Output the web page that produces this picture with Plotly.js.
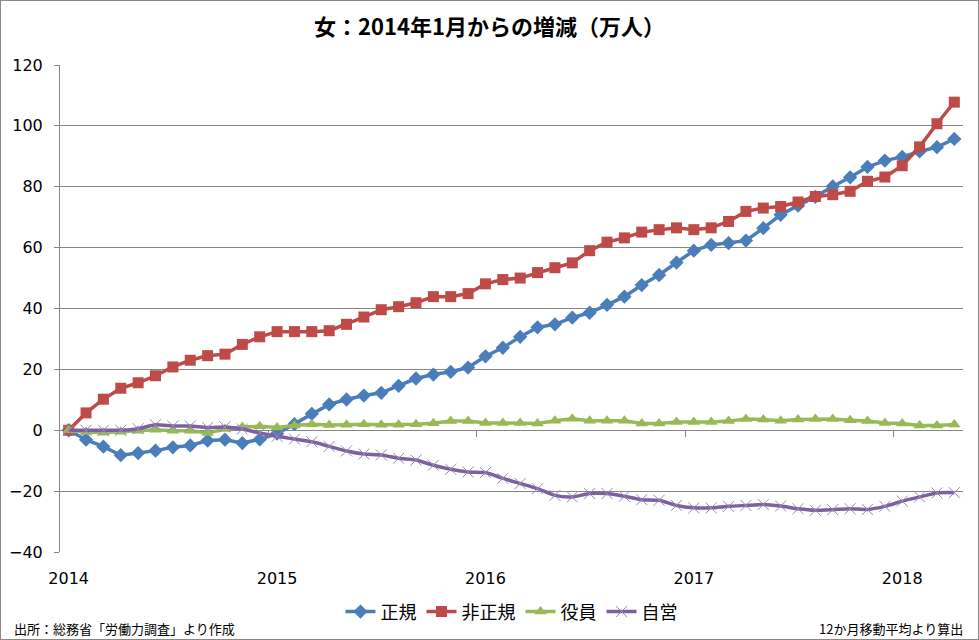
<!DOCTYPE html>
<html>
<head>
<meta charset="utf-8">
<script src="https://cdn.plot.ly/plotly-3.0.1.min.js"></script>
<style>
  html, body { margin: 0; padding: 0; background: #fff; }
  #chart { width: 979px; height: 640px; box-sizing: border-box; border: 1px solid #888; }
</style>
</head>
<body>
<div id="chart"></div>
<script>
// months Jan 2014 .. Apr 2018
var months = [
  '2014/1','2014/2','2014/3','2014/4','2014/5','2014/6','2014/7','2014/8','2014/9','2014/10','2014/11','2014/12',
  '2015/1','2015/2','2015/3','2015/4','2015/5','2015/6','2015/7','2015/8','2015/9','2015/10','2015/11','2015/12',
  '2016/1','2016/2','2016/3','2016/4','2016/5','2016/6','2016/7','2016/8','2016/9','2016/10','2016/11','2016/12',
  '2017/1','2017/2','2017/3','2017/4','2017/5','2017/6','2017/7','2017/8','2017/9','2017/10','2017/11','2017/12',
  '2018/1','2018/2','2018/3','2018/4'
];
var yearTickVals = ['2014/1','2015/1','2016/1','2017/1','2018/1'];
var yearTickText = ['2014','2015','2016','2017','2018'];

// 正規
var seiki = [0,-3.1,-5.4,-8.2,-7.5,-6.7,-5.6,-5.0,-3.4,-3.1,-4.2,-3.0,
  -1.1,2.0,5.4,8.5,10.1,11.4,12.3,14.6,17.0,18.3,19.2,20.6,
  24.3,27.1,30.7,33.8,34.8,37.0,38.6,41.2,43.9,47.7,51.0,55.1,
  59.0,60.9,61.5,62.3,66.4,70.8,73.8,76.7,80.1,83.1,86.5,88.6,
  89.8,91.6,93.0,95.7];
// 非正規
var hiseiki = [0,5.7,10.2,13.8,15.6,17.9,20.8,23.0,24.5,25.0,28.2,30.7,
  32.4,32.4,32.4,32.7,34.8,37.2,39.6,40.6,41.9,43.9,43.9,44.9,
  48.1,49.5,50.0,51.8,53.4,55.0,59.0,61.8,63.2,65.1,65.9,66.5,
  65.9,66.5,68.6,71.9,73.0,73.5,75.0,76.8,77.4,78.5,81.8,83.2,
  86.9,93.1,100.7,107.8];
// 役員
var yakuin = [0,-0.6,-0.8,-0.5,-0.2,0.2,-0.2,-0.2,-0.9,0.4,1.1,1.3,
  0.9,1.6,2.0,1.7,1.8,2.0,1.8,1.8,2.0,2.3,3.0,3.0,
  2.4,2.4,2.4,2.2,3.1,3.8,3.1,3.1,3.1,2.2,2.2,2.7,
  2.7,2.7,3.0,3.7,3.5,3.1,3.5,3.7,3.7,3.3,3.0,2.4,
  2.2,1.6,1.6,1.9];
// 自営
var jiei = [0,0,0,0,0.5,1.8,1.4,1.4,0.9,1.1,0.4,-0.9,
  -2.0,-2.9,-3.8,-5.3,-6.8,-7.8,-8.1,-9.2,-9.8,-11.5,-12.8,-13.7,
  -13.9,-15.8,-17.5,-19.2,-21.4,-21.9,-20.8,-20.8,-21.7,-22.8,-23.0,-24.7,
  -25.5,-25.5,-25.0,-24.7,-24.4,-24.9,-25.8,-26.3,-26.1,-25.8,-26.0,-25.0,
  -23.3,-21.9,-20.6,-20.5];

var boundaryTicks = [11.5, 23.5, 35.5, 47.5];

var grid = '#868686';
var jp = '"Noto Sans CJK JP", sans-serif';
var num = '"DejaVu Sans", sans-serif';

var traces = [
  {
    x: months, y: seiki, name: '正規', type: 'scatter', mode: 'lines+markers',
    line: {color: '#4A7EBB', width: 3.5},
    marker: {symbol: 'diamond', size: 11, color: '#4A7EBB'}
  },
  {
    x: months, y: hiseiki, name: '非正規', type: 'scatter', mode: 'lines+markers',
    line: {color: '#BE4B48', width: 3.5},
    marker: {symbol: 'square', size: 11, color: '#BE4B48'}
  },
  {
    x: months, y: yakuin, name: '役員', type: 'scatter', mode: 'lines+markers',
    line: {color: '#98B954', width: 3.5},
    marker: {symbol: 'triangle-up', size: 11, color: '#98B954'}
  },
  {
    x: months, y: jiei, name: '自営', type: 'scatter', mode: 'lines+markers',
    line: {color: '#7D60A0', width: 3.5, shape: 'spline', smoothing: 0.6},
    marker: {symbol: 'x-thin-open', size: 11, color: '#9A85C0', line: {color: '#9A85C0', width: 1}}
  },
  // carries the year boundary tick marks on the zero line
  {x: [], y: [], xaxis: 'x2', showlegend: false, hoverinfo: 'skip', type: 'scatter'}
];

var layout = {
  width: 977, height: 638,
  margin: {l: 59, r: 15, t: 64, b: 87, autoexpand: false},
  paper_bgcolor: '#fff', plot_bgcolor: '#fff',
  title: {
    text: '<b>女：2014年1月からの増減（万人）</b>',
    font: {family: jp, size: 22, color: '#000'},
    x: 0.5, xref: 'container', xanchor: 'center',
    y: 0.958, yref: 'container', yanchor: 'middle'
  },
  xaxis: {
    type: 'category', range: [-0.5, 51.5],
    tickvals: yearTickVals, ticktext: yearTickText,
    ticks: '', showline: false, showgrid: false, zeroline: false,
    ticklabelstandoff: 15,
    tickfont: {family: num, size: 16, color: '#000'}
  },
  xaxis2: {
    overlaying: 'x', anchor: 'free', position: 0.25,
    type: 'linear', range: [-0.5, 51.5],
    tickvals: boundaryTicks, ticks: 'outside', ticklen: 6, tickwidth: 1, tickcolor: grid,
    showticklabels: false, showgrid: false, zeroline: false, showline: false
  },
  yaxis: {
    range: [-40, 120], dtick: 20, tick0: 0,
    showgrid: true, gridcolor: grid, gridwidth: 1,
    zeroline: true, zerolinecolor: grid, zerolinewidth: 1,
    showline: true, linecolor: grid, linewidth: 1,
    ticks: 'outside', ticklen: 5, tickcolor: grid,
    tickfont: {family: num, size: 16, color: '#000'},
    ticklabelstandoff: 8
  },
  showlegend: true,
  legend: {
    orientation: 'h', x: 0.5, xanchor: 'center',
    y: -0.123, yanchor: 'middle',
    font: {family: jp, size: 18, color: '#000'},
    itemwidth: 30, tracegroupgap: 0
  },
  annotations: [
    {
      text: '出所：総務省「労働力調査」より作成',
      xref: 'paper', yref: 'paper', x: -0.053, y: -0.158,
      xanchor: 'left', yanchor: 'middle', showarrow: false,
      font: {family: jp, size: 13, color: '#000'}
    },
    {
      text: '12か月移動平均より算出',
      xref: 'paper', yref: 'paper', x: 1.002, y: -0.158,
      xanchor: 'right', yanchor: 'middle', showarrow: false,
      font: {family: jp, size: 13, color: '#000'}
    }
  ]
};

Plotly.newPlot('chart', traces, layout, {displayModeBar: false, staticPlot: true});
</script>
</body>
</html>
